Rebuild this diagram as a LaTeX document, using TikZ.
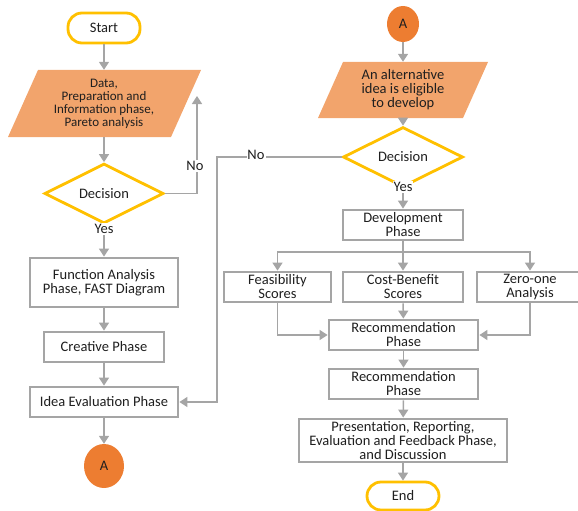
\documentclass[tikz,border=0pt]{standalone}
\usepackage{fontspec}
\setmainfont{Carlito}
\usetikzlibrary{shapes.geometric,arrows.meta}
\definecolor{lgray}{HTML}{A5A5A5}
\definecolor{yel}{HTML}{FFC000}
\definecolor{lorange}{HTML}{F2A46C}
\definecolor{dorange}{HTML}{ED7D31}
\tikzset{
  every node/.style={font=\fontsize{14.5}{14}\selectfont, align=center, text=black!88},
  arr/.style={draw=lgray, line width=1.5pt, -{Triangle[width=10pt,length=8pt]}},
  ln/.style={draw=lgray, line width=1.5pt},
  procbox/.style={rectangle, draw=lgray, line width=2.8pt, fill=white, inner sep=0pt},
  term/.style={rectangle, rounded corners=14pt, draw=yel, line width=2.8pt, fill=white, minimum width=72pt, inner sep=0pt},
  decis/.style={diamond, draw=yel, line width=2.8pt, fill=white, inner sep=0pt},
  conn/.style={ellipse, fill=dorange, inner sep=0pt},
  lbl/.style={fill=white, inner sep=1pt},
  iobox/.style={inner sep=0pt}
}
\begin{document}
\begin{tikzpicture}[x=1pt,y=-1pt]
\useasboundingbox (0,0) rectangle (578,511);
% left column
\node[term, minimum height=30pt] (start) at (104,28) {Start};
\fill[lorange] (38,70) -- (201,70) -- (171,137) -- (8,137) -- cycle;
\node[iobox, minimum width=160pt, minimum height=67pt, font=\fontsize{13}{13}\selectfont] (data) at (104,103.5) {Data,\\Preparation and\\Information phase,\\Pareto analysis};
\node[decis, minimum width=119pt, minimum height=39pt] (dec1) at (104,193.5) {Decision};
\node[procbox, minimum width=148pt, minimum height=49pt] (func) at (104,282.5) {Function Analysis\\Phase, FAST Diagram};
\node[procbox, minimum width=120pt, minimum height=30pt] (crea) at (104,347) {Creative Phase};
\node[procbox, minimum width=148pt, minimum height=30pt] (idea) at (104,402) {Idea Evaluation Phase};
\node[conn, minimum width=40pt, minimum height=44pt] (a1) at (104,466) {A};
% right column
\node[conn, minimum width=32pt, minimum height=36pt] (a2) at (403,24) {A};
\fill[lorange] (343,62) -- (488,62) -- (463,118) -- (318,118) -- cycle;
\node[iobox, minimum width=145pt, minimum height=56pt] (alt) at (403,90) {An alternative\\idea is eligible\\to develop};
\node[decis, minimum width=120pt, minimum height=40pt] (dec2) at (403,157) {Decision};
\node[procbox, minimum width=120pt, minimum height=30pt] (dev) at (403,225) {Development\\Phase};
\node[procbox, minimum width=107pt, minimum height=30pt] (feas) at (277.5,287) {Feasibility\\Scores};
\node[procbox, minimum width=120pt, minimum height=30pt] (cost) at (403,287) {Cost-Benefit\\Scores};
\node[procbox, minimum width=106pt, minimum height=30pt] (zero) at (530,287) {Zero-one\\Analysis};
\node[procbox, minimum width=149pt, minimum height=30pt] (rec1) at (403.5,335) {Recommendation\\Phase};
\node[procbox, minimum width=149pt, minimum height=30pt] (rec2) at (403.5,384) {Recommendation\\Phase};
\node[procbox, minimum width=208pt, minimum height=43pt] (pres) at (403,440.5) {Presentation, Reporting,\\Evaluation and Feedback Phase,\\and Discussion};
\node[term, minimum height=28pt] (end) at (403,496) {End};
% connectors left
\draw[arr] (start) -- (data);
\draw[arr] (data) -- (dec1);
\coordinate (noend) at (197,96);
\draw[arr] (dec1.east) -| (noend);
\node[lbl] (no1) at (195,166) {No};
\draw[arr] (dec1) -- (func);
\node[lbl] (yes1) at (104,229) {Yes};
\draw[arr] (func) -- (crea);
\draw[arr] (crea) -- (idea);
\draw[arr] (idea) -- (a1);
% connectors right
\draw[arr] (a2) -- (alt);
\draw[arr] (alt) -- (dec2);
\coordinate (nocorner) at (217,157);
\draw[arr] (dec2.west) -- (nocorner) |- (idea.east);
\node[lbl] (no2) at (256,155) {No};
\draw[arr] (dec2) -- (dev);
\node[lbl] (yes2) at (403,187) {Yes};
\coordinate (br) at (403,252);
\draw[ln] (dev.south) -- (br);
\draw[arr] (br) -| (feas.north);
\draw[arr] (br) -| (zero.north);
\draw[arr] (br) -- (cost.north);
\draw[arr] (feas.south) |- (rec1.west);
\draw[arr] (zero.south) |- (rec1.east);
\draw[arr] (cost) -- (rec1);
\draw[arr] (rec1) -- (rec2);
\draw[arr] (rec2) -- (pres);
\draw[arr] (pres) -- (end);
\end{tikzpicture}
\end{document}
